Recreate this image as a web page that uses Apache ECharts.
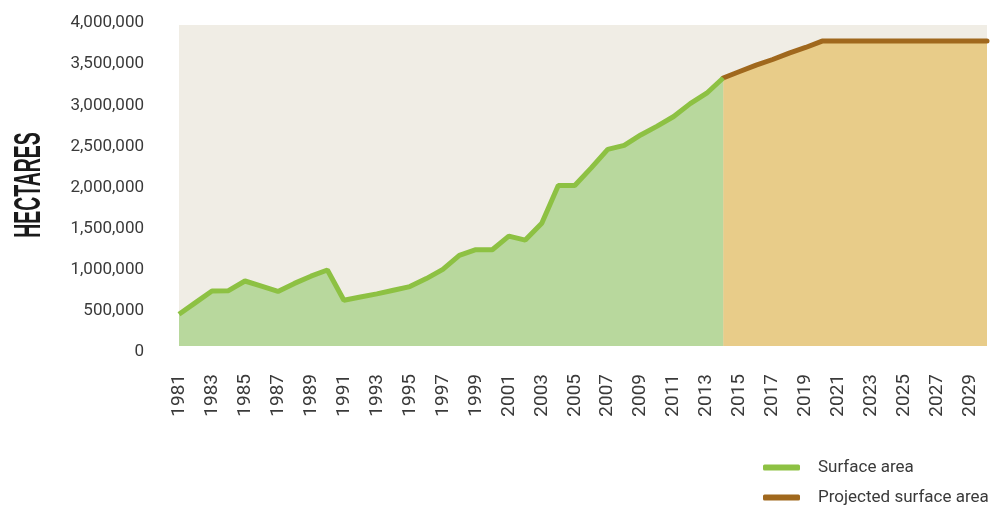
<!DOCTYPE html>
<html>
<head>
<meta charset="utf-8">
<script src="https://cdn.jsdelivr.net/npm/echarts@6/dist/echarts.min.js"></script>
<style>
  html, body { margin: 0; padding: 0; background: #ffffff; }
  #chart { width: 995px; height: 506px; }
</style>
</head>
<body>
<div id="chart"></div>
<script>
// Years on the category axis
const years = ['1981','1982','1983','1984','1985','1986','1987','1988','1989','1990',
  '1991','1992','1993','1994','1995','1996','1997','1998','1999','2000',
  '2001','2002','2003','2004','2005','2006','2007','2008','2009','2010',
  '2011','2012','2013','2014','2015','2016','2017','2018','2019','2020',
  '2021','2022','2023','2024','2025','2026','2027','2028','2029','2030'];

// Surface area, hectares, 1981-2014
const surfaceArea = [395000, 540000, 685000, 690000, 810000, 745000, 680000, 780000, 870000, 947000,
  570000, 610000, 650000, 695000, 740000, 840000, 955000, 1130000, 1200000, 1200000,
  1370000, 1320000, 1530000, 2000000, 2000000, 2220000, 2450000, 2500000, 2630000, 2740000,
  2860000, 3020000, 3150000, 3340000];

// Projected surface area, hectares, 2014-2030
const projectedArea = [3340000, 3420000, 3500000, 3570000, 3650000, 3720000, 3800000,
  3800000, 3800000, 3800000, 3800000, 3800000, 3800000, 3800000, 3800000, 3800000, 3800000];
const projectedStart = '2014';

// Y axis ticks
const yMin = 0, yMax = 4000000, yStep = 500000;

const seriesNames = ['Surface area', 'Projected surface area'];
const axisTitle = 'HECTARES';

// Build full-length data arrays aligned with the years
const surfaceData = years.map((y, i) => i < surfaceArea.length ? surfaceArea[i] : null);
const pStart = years.indexOf(projectedStart);
const projectedData = years.map((y, i) => (i >= pStart && i - pStart < projectedArea.length) ? projectedArea[i - pStart] : null);

const FONT = 'Roboto, "Liberation Sans", sans-serif';
const NARROW = '"Liberation Sans Narrow", Roboto, sans-serif';
const chart = echarts.init(document.getElementById('chart'), null, { renderer: 'canvas' });

const legendCommon = {
  orient: 'vertical',
  left: 763,
  padding: 0,
  itemWidth: 37, itemHeight: 6,
  icon: 'roundRect',
  textStyle: { fontFamily: FONT, fontSize: 17, color: '#3a3a3a', padding: [0, 0, 0, 13] }
};

chart.setOption({
  animation: false,
  backgroundColor: '#ffffff',
  grid: [
    { left: 179, right: 8, top: 25, bottom: 160, show: true, backgroundColor: '#f0ede5', borderWidth: 0 },
    { left: 179, right: 8, top: 23, bottom: 154, show: false }
  ],
  legend: [
    Object.assign({}, legendCommon, { top: 459, data: [{ name: seriesNames[0], itemStyle: { color: '#8dc143' } }] }),
    Object.assign({}, legendCommon, { top: 489, data: [{ name: seriesNames[1], itemStyle: { color: '#a0681d' } }] })
  ],
  xAxis: [{
    type: 'category',
    gridIndex: 0,
    data: years,
    boundaryGap: false,
    axisLine: { show: false },
    axisTick: { show: false },
    splitLine: { show: false },
    axisLabel: {
      interval: 1,
      rotate: 90,
      margin: 28,
      fontFamily: NARROW,
      fontSize: 19,
      color: '#3a3a3a'
    }
  }, {
    type: 'category',
    gridIndex: 1,
    data: years,
    show: false
  }],
  yAxis: [{
    type: 'value',
    gridIndex: 0,
    min: yMin, max: yMax, interval: yStep,
    axisLine: { show: false },
    axisTick: { show: false },
    splitLine: { show: false },
    axisLabel: { show: false }
  }, {
    type: 'value',
    gridIndex: 1,
    min: yMin, max: yMax, interval: yStep,
    axisLine: { show: false },
    axisTick: { show: false },
    splitLine: { show: false },
    axisLabel: {
      margin: 35,
      fontFamily: FONT,
      fontSize: 17,
      color: '#3a3a3a',
      formatter: v => v.toLocaleString('en-US')
    }
  }],
  graphic: [{
    type: 'text',
    x: 30, y: 185,
    rotation: Math.PI / 2,
    scaleX: 0.54,
    style: {
      text: axisTitle,
      fontFamily: '"Liberation Sans Narrow", "Liberation Sans", sans-serif',
      fontWeight: 'bold',
      fontSize: 36,
      fill: '#1a1a1a',
      align: 'center',
      verticalAlign: 'middle'
    }
  }],
  series: [
    {
      name: seriesNames[0],
      type: 'line',
      xAxisIndex: 0, yAxisIndex: 0,
      data: surfaceData,
      symbol: 'none',
      lineStyle: { color: '#8dc143', width: 5 },
      itemStyle: { color: '#8dc143' },
      areaStyle: { color: '#b8d89d', opacity: 1 },
      z: 3
    },
    {
      name: seriesNames[1],
      type: 'line',
      xAxisIndex: 0, yAxisIndex: 0,
      data: projectedData,
      symbol: 'none',
      lineStyle: { color: '#a0681d', width: 5, cap: 'round' },
      itemStyle: { color: '#a0681d' },
      areaStyle: { color: '#e8cc89', opacity: 1 },
      z: 2
    }
  ]
});
</script>
</body>
</html>
